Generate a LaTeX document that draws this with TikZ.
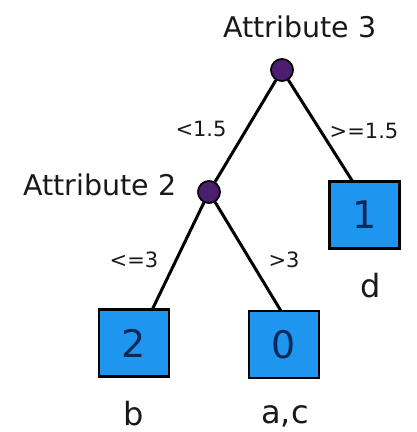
\documentclass[tikz,border=0pt]{standalone}
\usepackage{fontspec}
\setmainfont{DejaVu Sans}
\definecolor{leafblue}{RGB}{30,150,240}
\definecolor{digitblue}{RGB}{12,40,90}
\definecolor{nodepurple}{RGB}{75,30,112}
\definecolor{textgray}{RGB}{25,25,25}
\tikzset{
  split/.style={circle,draw=black,line width=1.5pt,fill=nodepurple,minimum size=22pt,inner sep=0pt},
  leaf/.style={rectangle,draw=black,line width=2.5pt,fill=leafblue,minimum width=70pt,minimum height=67pt,inner sep=0pt,text=digitblue,font=\fontsize{38}{42}\selectfont},
  attr/.style={anchor=base,inner sep=0pt,text=textgray,font=\fontsize{28.5}{32}\selectfont},
  elabel/.style={anchor=base,inner sep=0pt,text=textgray,font=\fontsize{21}{24}\selectfont},
  llabel/.style={anchor=base,inner sep=0pt,text=textgray,font=\fontsize{32}{36}\selectfont},
  branch/.style={draw=black,line width=3pt}
}
\begin{document}
\begin{tikzpicture}[x=1pt,y=-1pt]
\useasboundingbox[fill=white] (0,0) rectangle (416,432);
% nodes
\node[split] (r) at (282,70) {};
\node[split] (a2) at (209,192) {};
\node[leaf] (l1) at (364.5,215) {1};
\node[leaf] (l2) at (134,343) {2};
\node[leaf] (l0) at (284,344.5) {0};
% edge end points on box tops
\coordinate (t1) at (353,182);
\coordinate (t2) at (152,310);
\coordinate (t0) at (281,311);
% connectors
\draw[branch] (r) -- (t1);
\draw[branch] (r) -- (a2);
\draw[branch] (a2) -- (t2);
\draw[branch] (a2) -- (t0);
% redraw nodes and boxes on top
\node[split] at (r) {};
\node[split] at (a2) {};
\node[leaf] at (l1) {1};
\node[leaf] at (l2) {2};
\node[leaf] at (l0) {0};
% texts
\node[attr] (lr) at (300,37) {Attribute 3};
\node[attr] (la2) at (100,195) {Attribute 2};
\node[elabel] (e1) at (201,136) {<1.5};
\node[elabel] (e2) at (364,138) {>=1.5};
\node[elabel] (e3) at (134,267) {<=3};
\node[elabel] (e4) at (284,267) {>3};
\node[llabel] (d) at (371,297) {d};
\node[llabel] (b) at (134,425) {b};
\node[llabel] (ac) at (285,423) {a,c};
\end{tikzpicture}
\end{document}
